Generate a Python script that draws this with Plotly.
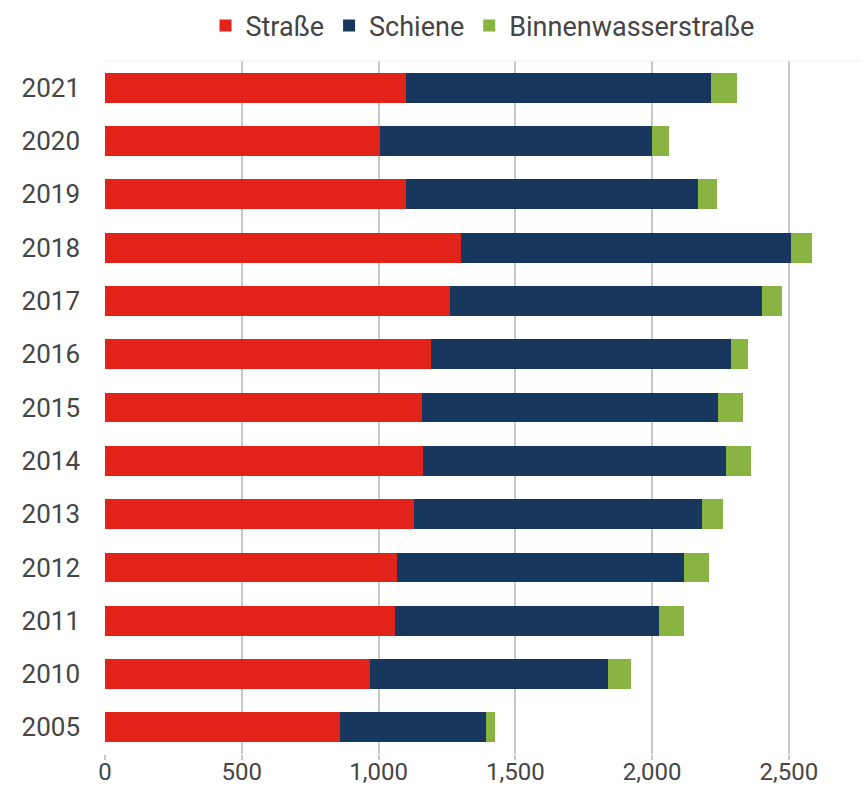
import plotly.graph_objects as go

years = ["2005", "2010", "2011", "2012", "2013", "2014", "2015", "2016", "2017", "2018", "2019", "2020", "2021"]
strasse = [860, 970, 1059, 1067, 1128, 1164, 1157, 1190, 1262, 1301, 1101, 1004, 1099]
schiene = [531, 867, 968, 1049, 1054, 1105, 1083, 1099, 1141, 1205, 1067, 994, 1118]
binnen = [36, 86, 88, 93, 77, 93, 92, 62, 73, 80, 68, 64, 94]

x_ticks = [0, 500, 1000, 1500, 2000, 2500]
x_ticklabels = ["0", "500", "1,000", "1,500", "2,000", "2,500"]

font_family = "Roboto, sans-serif"
txt_col = "#454545"

fig = go.Figure()
for name, vals, col in [("Straße", strasse, "#e2231a"),
                        ("Schiene", schiene, "#17375e"),
                        ("Binnenwasserstraße", binnen, "#8ab441")]:
    fig.add_trace(go.Bar(
        y=years, x=vals, name=name, orientation="h",
        marker=dict(color=col, line=dict(width=0)),
    ))

fig.update_layout(
    barmode="stack",
    bargap=0.44,
    width=864, height=786,
    margin=dict(l=105, r=4, t=61, b=32),
    paper_bgcolor="white",
    plot_bgcolor="white",
    font=dict(family=font_family, size=26, color=txt_col),
    legend=dict(orientation="h", x=0.5, xanchor="center", y=0.998, yanchor="top",
                yref="container", font=dict(size=27, color=txt_col),
                itemwidth=30, traceorder="normal"),
    showlegend=True,
)
fig.update_xaxes(
    range=[0, 2760],
    tickvals=x_ticks, ticktext=x_ticklabels,
    showgrid=True, gridcolor="#c8c8c8", gridwidth=1.5,
    zeroline=False, showline=False, automargin=False,
    ticks="outside", ticklen=5, tickcolor="#c8c8c8", tickwidth=1.5,
    ticklabelstandoff=-9,
    tickfont=dict(size=24, color=txt_col),
)
fig.update_yaxes(
    categoryorder="array", categoryarray=years,
    showgrid=False, showline=False, zeroline=False, automargin=False,
    ticks="", ticklabelstandoff=24,
    tickfont=dict(size=26, color=txt_col),
)
fig.add_shape(type="line", xref="paper", yref="paper", x0=0, x1=1, y0=1, y1=1,
              line=dict(color="#eeeeee", width=1))

fig.write_html("out.html")
